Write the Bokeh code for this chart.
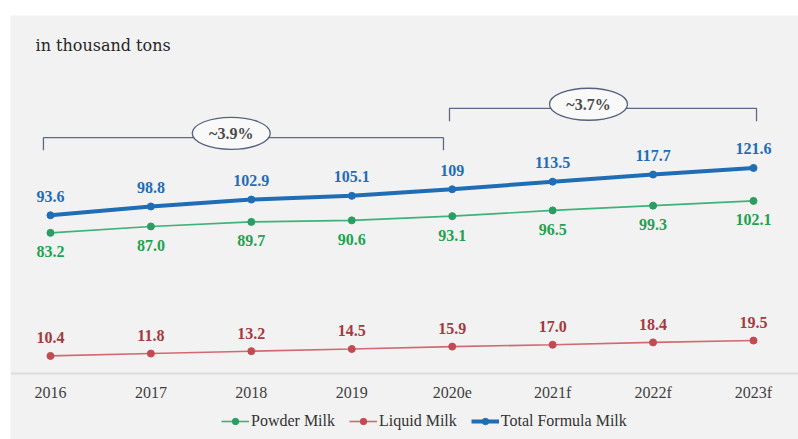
from bokeh.plotting import figure
from bokeh.models import (Range1d, Legend, LegendItem, Span)
from bokeh.core.properties import value
from bokeh.embed import file_html
from bokeh.resources import INLINE

years = ["2016", "2017", "2018", "2019", "2020e", "2021f", "2022f", "2023f"]
powder = [83.2, 87.0, 89.7, 90.6, 93.1, 96.5, 99.3, 102.1]
liquid = [10.4, 11.8, 13.2, 14.5, 15.9, 17.0, 18.4, 19.5]
total = [93.6, 98.8, 102.9, 105.1, 109.0, 113.5, 117.7, 121.6]
powder_labels = ["83.2", "87.0", "89.7", "90.6", "93.1", "96.5", "99.3", "102.1"]
liquid_labels = ["10.4", "11.8", "13.2", "14.5", "15.9", "17.0", "18.4", "19.5"]
total_labels = ["93.6", "98.8", "102.9", "105.1", "109", "113.5", "117.7", "121.6"]
cagr_labels = ["~3.9%", "~3.7%"]

idx = list(range(len(years)))

BG = "#f2f2f2"
BLUE = "#1f6db5"
GREEN_LINE = "#3cb37a"
GREEN_MK = "#2a9d62"
GREEN_TXT = "#23a14f"
RED_LINE = "#d16a70"
RED_MK = "#c44a52"
RED_TXT = "#a33a40"

p = figure(frame_width=788, frame_height=424, output_backend="svg", toolbar_location=None,
           x_range=Range1d(-0.398, 7.448), y_range=Range1d(-39.05, 211.8),
           background_fill_color=BG, border_fill_color=BG,
           min_border_left=0, min_border_right=0, min_border_top=0, min_border_bottom=0)
p.margin = (15, 0, 0, 10)
p.outline_line_color = None
p.grid.visible = False
p.xaxis.visible = False
p.yaxis.visible = False

# baseline (category axis line) and category labels
p.add_layout(Span(location=0, dimension="width", line_color="#dcdcdc", line_width=2))
p.text(idx, [0] * len(idx), text=years, y_offset=19, text_align="center", text_baseline="middle",
       text_font=value("Liberation Serif"), text_font_size="16px", text_color="#404040")

# series
lp = p.line(idx, powder, line_color=GREEN_LINE, line_width=1.6)
sp = p.scatter(idx, powder, size=7, fill_color=GREEN_MK, line_color=GREEN_MK)
ll = p.line(idx, liquid, line_color=RED_LINE, line_width=1.6)
sl = p.scatter(idx, liquid, size=7, fill_color=RED_MK, line_color=RED_MK)
lt = p.line(idx, total, line_color=BLUE, line_width=4)
st = p.scatter(idx, total, size=7, fill_color=BLUE, line_color=BLUE)

lab_font = value("Liberation Serif")
p.text(idx, total, text=total_labels, y_offset=-19, text_align="center", text_baseline="middle",
       text_font=lab_font, text_font_size="16px", text_font_style="bold", text_color=BLUE)
p.text(idx, powder, text=powder_labels, y_offset=19, text_align="center", text_baseline="middle",
       text_font=lab_font, text_font_size="16px", text_font_style="bold", text_color=GREEN_TXT)
p.text(idx, liquid, text=liquid_labels, y_offset=-18, text_align="center", text_baseline="middle",
       text_font=lab_font, text_font_size="16px", text_font_style="bold", text_color=RED_TXT)

# unit note
p.text([-0.149], [194.2], text=["in thousand tons"], text_align="left", text_baseline="middle",
       text_font=value("DejaVu Serif"), text_font_size="16px", text_color="#262626")

# CAGR brackets
BR = "#5d6b82"
p.multi_line(xs=[[idx[0] - 0.07, idx[0] - 0.07, idx[4] - 0.087, idx[4] - 0.087],
                 [idx[4] - 0.027, idx[4] - 0.027, idx[7] + 0.03, idx[7] + 0.03]],
             ys=[[132.1, 139.5, 139.5, 132.1], [149.2, 156.9, 156.9, 149.2]],
             line_color=BR, line_width=1.3)
ex = [1.80, 5.357]
ey = [142.1, 159.3]
p.ellipse(ex, ey, width=78, height=32, width_units="screen", height_units="screen",
          fill_color="#f9f9f9", line_color="#55627e", line_width=1.3)
p.text(ex, ey, text=cagr_labels, text_align="center", text_baseline="middle",
       text_font=lab_font, text_font_size="16px", text_font_style="bold", text_color="#4a4a4a")

legend = Legend(items=[LegendItem(label="Powder Milk", renderers=[lp, sp]),
                       LegendItem(label="Liquid Milk", renderers=[ll, sl]),
                       LegendItem(label="Total Formula Milk", renderers=[lt, st])],
                orientation="horizontal", location=(211, 9),
                background_fill_alpha=0, border_line_color=None,
                label_text_font="Liberation Serif", label_text_font_size="16px",
                label_text_color="#333333", glyph_width=28, glyph_height=16,
                label_standoff=2, spacing=14, padding=0, margin=0)
p.add_layout(legend, "center")

open("out.html", "w").write(file_html(p, INLINE))
